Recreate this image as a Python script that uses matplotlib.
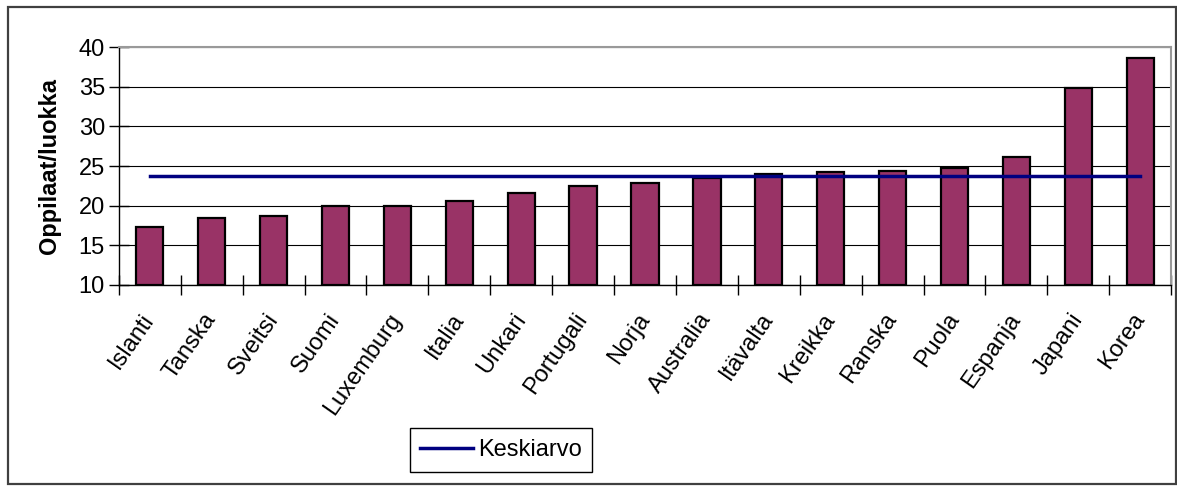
import matplotlib.pyplot as plt
import numpy as np
from matplotlib.patches import Rectangle

plt.rcParams['font.family'] = ['Liberation Sans', 'DejaVu Sans']

maat = ["Islanti", "Tanska", "Sveitsi", "Suomi", "Luxemburg", "Italia", "Unkari",
        "Portugali", "Norja", "Australia", "Itävalta", "Kreikka", "Ranska", "Puola",
        "Espanja", "Japani", "Korea"]
oppilaat = [17.3, 18.5, 18.7, 19.9, 19.9, 20.6, 21.6, 22.5, 22.8, 23.5, 24.0,
            24.2, 24.4, 24.7, 26.1, 34.9, 38.7]
keskiarvo = 23.7

fig = plt.figure(figsize=(11.77, 4.87), dpi=100)
ax = fig.add_axes([0.101, 0.415, 0.894, 0.488])

x = np.arange(len(maat))
ax.bar(x, np.array(oppilaat) - 10, bottom=10, width=0.44, color='#993366',
       edgecolor='black', linewidth=1.6, zorder=3)
ax.plot([x[0], x[-1]], [keskiarvo, keskiarvo], color='#000080', lw=2.5,
        label='Keskiarvo', zorder=4)

ax.set_xlim(-0.5, len(maat) - 0.5)
ax.set_ylim(10, 40)
ax.set_yticks(range(10, 41, 5))
ax.yaxis.grid(True, color='black', lw=0.8)
ax.set_axisbelow(True)

ax.set_xticks(x)
ax.set_xticklabels(maat, rotation=55, ha='right', va='center',
                   rotation_mode='anchor', fontsize=17)
ax.set_xticks(np.arange(-0.5, len(maat), 1), minor=True)
ax.tick_params(axis='x', which='major', length=0, pad=22)
ax.tick_params(axis='x', which='minor', direction='inout', length=14, width=1)
ax.tick_params(axis='y', direction='inout', length=14, width=1, labelsize=17, pad=3)

ax.set_ylabel('Oppilaat/luokka', fontsize=17, fontweight='bold', labelpad=13)

for side in ['top', 'right']:
    ax.spines[side].set_color('#999999')
    ax.spines[side].set_linewidth(1.5)
for side in ['left', 'bottom']:
    ax.spines[side].set_color('black')
    ax.spines[side].set_linewidth(1)

leg = fig.legend(loc='center', bbox_to_anchor=(501 / 1177, 1 - 450 / 487),
                 fontsize=17, fancybox=False, edgecolor='black', framealpha=1,
                 handlelength=2.25, handletextpad=0.2, borderpad=0.45)
leg.get_frame().set_linewidth(1)

# outer chart border
fig.patches.append(Rectangle((8 / 1177, 3 / 487), 1168 / 1177, 477 / 487,
                             transform=fig.transFigure, fill=False,
                             edgecolor='#404040', lw=1.6))

fig.savefig('out.png', dpi=100)
